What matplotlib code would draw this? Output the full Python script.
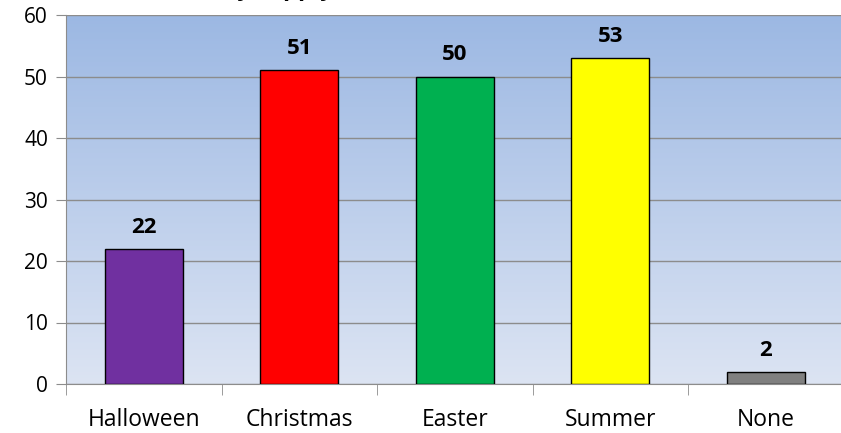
import matplotlib.pyplot as plt
import numpy as np
from matplotlib.colors import LinearSegmentedColormap

# data
categories = ['Halloween', 'Christmas', 'Easter', 'Summer', 'None']
counts = [22, 51, 50, 53, 2]
bar_colors = ['#7030A0', '#FF0000', '#00B050', '#FFFF00', '#808080']
yticks = [0, 10, 20, 30, 40, 50, 60]

plt.rcParams['font.family'] = ['Open Sans', 'DejaVu Sans']

fig = plt.figure(figsize=(8.41, 4.33), dpi=100)
ax = fig.add_axes([66/841, 49/433, 777.5/841, 369/433])

# plot area gradient (dark blue top -> pale bottom)
cmap = LinearSegmentedColormap.from_list('bg', ['#DCE4F3', '#9CB8E3'])
grad = np.linspace(0, 1, 256).reshape(-1, 1)
ax.imshow(grad, cmap=cmap, aspect='auto', extent=[0, 1, 0, 1],
          transform=ax.transAxes, origin='lower', zorder=0)

x = np.arange(len(categories))
ax.bar(x, counts, width=0.5, color=bar_colors, edgecolor='black', linewidth=1, zorder=3)

for xi, v in zip(x, counts):
    ax.annotate(str(v), (xi, v), xytext=(0, 8), textcoords='offset points',
                ha='center', va='bottom', fontsize=16, fontweight='bold', zorder=4)

ax.set_xlim(-0.5, 4.5)
ax.set_ylim(0, 60)
ax.set_yticks(yticks)
ax.yaxis.grid(True, color='#8C8C8C', linewidth=1, zorder=1)
ax.set_axisbelow(False)

ax.set_xticks(x)
ax.set_xticklabels(categories, fontsize=16.5)
ax.set_xticks(np.arange(-0.5, 5, 1), minor=True)
ax.tick_params(axis='x', which='major', length=0, pad=17)
ax.tick_params(axis='x', which='minor', length=8, color='#8C8C8C')
ax.tick_params(axis='y', length=7, color='#8C8C8C', labelsize=15, pad=6)

for s in ['top', 'right']:
    ax.spines[s].set_visible(False)
for s in ['left', 'bottom']:
    ax.spines[s].set_color('#8C8C8C')

# title cut off at the top of the image, only descenders show
fig.text(0.397, 1 + 5/433, 'Which holidays apply', ha='right', va='baseline',
         fontsize=17, fontweight='bold')

fig.savefig('out.png', dpi=100)
